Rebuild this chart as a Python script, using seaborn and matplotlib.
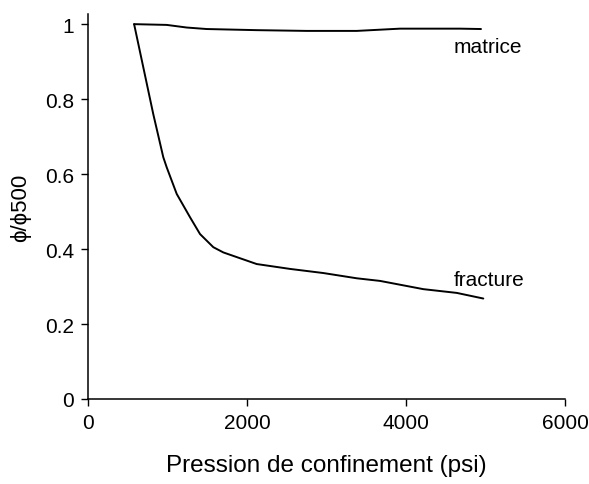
import matplotlib
matplotlib.use("Agg")
import matplotlib.pyplot as plt
import numpy as np
import pandas as pd
import seaborn as sns

# values
pression_fracture = [580, 821, 947, 990, 1116, 1283, 1409, 1576, 1702, 2122,
                     2541, 2960, 3380, 3673, 4218, 4638, 4972]
phi_fracture = [1.0, 0.76, 0.645, 0.618, 0.547, 0.485, 0.44, 0.405, 0.391, 0.36,
                0.347, 0.336, 0.322, 0.315, 0.293, 0.283, 0.268]

pression_matrice = [580, 990, 1242, 1493, 2122, 2751, 3380, 3925, 4679, 4943]
phi_matrice = [1.0, 0.998, 0.991, 0.987, 0.984, 0.982, 0.982, 0.988, 0.988, 0.987]

x_ticks = [0, 2000, 4000, 6000]
y_ticks = [0, 0.2, 0.4, 0.6, 0.8, 1.0]
y_ticklabels = ["0", "0.2", "0.4", "0.6", "0.8", "1"]

df = pd.concat([
    pd.DataFrame({"pression": pression_matrice, "phi": phi_matrice, "serie": "matrice"}),
    pd.DataFrame({"pression": pression_fracture, "phi": phi_fracture, "serie": "fracture"}),
])

sns.set_style("ticks")
plt.rcParams["font.family"] = ["Liberation Sans", "DejaVu Sans"]
plt.rcParams["text.color"] = "black"
plt.rcParams["axes.labelcolor"] = "black"

fig = plt.figure(figsize=(5.89, 4.85), dpi=100)
ax = fig.add_axes([0.1494, 0.1753, 0.8099, 0.7937])

sns.lineplot(data=df, x="pression", y="phi", units="serie", estimator=None,
             sort=False, color="black", linewidth=1.4, ax=ax, legend=False)

ax.set_xlim(0, 6000)
ax.set_ylim(0, 1.027)
ax.set_xticks(x_ticks)
ax.set_xticklabels([str(t) for t in x_ticks])
ax.set_yticks(y_ticks)
ax.set_yticklabels(y_ticklabels)
ax.tick_params(labelsize=15, length=5, width=1.0, colors="black", pad=5)
for s in ["left", "bottom"]:
    ax.spines[s].set_linewidth(1.1)
    ax.spines[s].set_color("black")
sns.despine(ax=ax)

ax.set_xlabel("Pression de confinement (psi)", fontsize=17.5, labelpad=16)
ax.set_ylabel("ϕ/ϕ500", fontsize=16, labelpad=10)

ax.text(4600, 0.941, "matrice", fontsize=15, ha="left", va="center")
ax.text(4600, 0.32, "fracture", fontsize=15, ha="left", va="center")

fig.savefig("out.png", dpi=100)
